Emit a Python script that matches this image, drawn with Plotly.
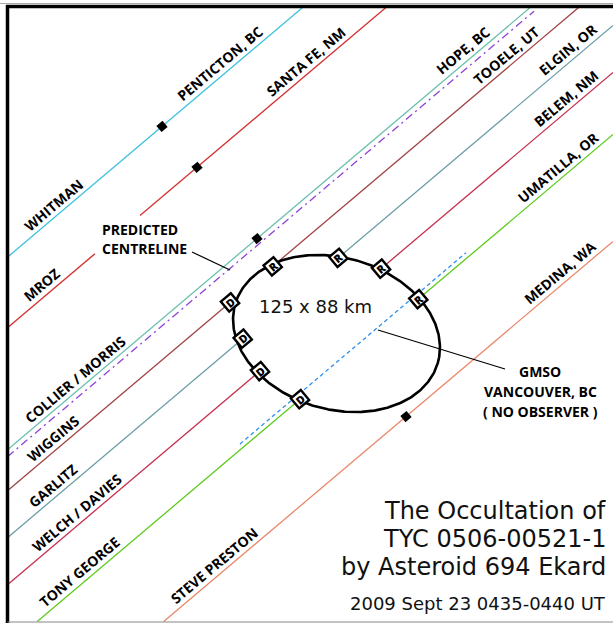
import numpy as np
import plotly.graph_objects as go

W, H = 613, 623
SLOPE = 0.846          # screen slope of the shadow path (pixels, y down)
ANG = -40              # text / marker angle along the path
FRAME_L, FRAME_T, FRAME_B = 7.5, 6.5, 621.5

# ---- chord data (offset c: y = c - SLOPE*x) ----
chord_keys    = ["whitman", "mroz", "collier", "centre", "wiggins", "garlitz", "welch", "george", "preston", "gmso"]
chord_offsets = [263.5, 334.0, 456.0, 463.0, 497.0, 544.0, 591.0, 653.0, 760.0, 647.0]
chord_colors  = ["#3fc1dc", "#d4302f", "#6cc0ae", "#8c42d6", "#a14343", "#6c9ea8", "#c6304f", "#5dcb1e", "#e9876a", "#2f8ff0"]
chord_dash    = ["solid", "solid", "solid", "8px,4px,2px,4px", "solid", "solid", "solid", "solid", "solid", "4px,3px"]
# visible x-ranges of each chord (None = runs to frame edge)
chord_segments = [
    [(None, None)],
    [(None, 95), (140, None)],
    [(None, None)],
    [(None, 534)],
    [(None, 230), (272.7, None)],
    [(None, 242.7), (338.3, None)],
    [(None, 260), (381, None)],
    [(None, 300), (418.3, None)],
    [(None, None)],
    [(240, 466)],
]

# disappearance / reappearance timings (x position along path)
event_keys = ["wiggins", "garlitz", "welch", "george", "wiggins", "garlitz", "welch", "george"]
event_x    = [230, 242.7, 260, 300, 272.7, 338.3, 381, 418.3]
event_type = ["D", "D", "D", "D", "R", "R", "R", "R"]

# station reference points (black diamonds)
station_keys = ["whitman", "mroz", "collier", "preston"]
station_x    = [162, 197, 257, 406]

# observer labels
label_text = ["WHITMAN", "PENTICTON, BC", "MROZ", "SANTA FE, NM", "COLLIER / MORRIS", "HOPE, BC",
              "WIGGINS", "TOOELE, UT", "GARLITZ", "ELGIN, OR", "WELCH / DAVIES", "BELEM, NM",
              "TONY GEORGE", "UMATILLA, OR", "STEVE PRESTON", "MEDINA, WA"]
label_key  = ["whitman", "whitman", "mroz", "mroz", "collier", "collier", "wiggins", "wiggins",
              "garlitz", "garlitz", "welch", "welch", "george", "george", "preston", "preston"]
label_x    = [53, 220, 42, 306, 75, 463, 53, 506, 53, 568, 77, 566, 80, 558, 214, 560]

# fitted asteroid profile (125 x 88 km)
ell_center = (336.5, 333.5)
ell_axes   = (105.5, 75.8)
ell_tilt   = 16.3

title_lines = ["The Occultation of", "TYC 0506-00521-1", "by Asteroid 694 Ekard"]
date_text = "2009 Sept 23 0435-0440 UT"

off = dict(zip(chord_keys, chord_offsets))
def yline(key, x):
    return off[key] - SLOPE * np.asarray(x, dtype=float)

fig = go.Figure()

for key, c, col, dash, segs in zip(chord_keys, chord_offsets, chord_colors, chord_dash, chord_segments):
    for xa, xb in segs:
        if xa is None:
            xa = max(FRAME_L, (c - FRAME_B) / SLOPE)
        if xb is None:
            xb = min((c - FRAME_T) / SLOPE, W)
        xs = np.array([xa, xb])
        fig.add_trace(go.Scatter(x=xs, y=yline(key, xs), mode="lines",
                                 line=dict(color=col, width=1.3, dash=dash),
                                 hoverinfo="skip", showlegend=False))

# ellipse
t = np.linspace(0, 2 * np.pi, 400)
th = np.radians(ell_tilt)
ex = ell_center[0] + ell_axes[0] * np.cos(t) * np.cos(th) - ell_axes[1] * np.sin(t) * np.sin(th)
ey = ell_center[1] + ell_axes[0] * np.cos(t) * np.sin(th) + ell_axes[1] * np.sin(t) * np.cos(th)
fig.add_trace(go.Scatter(x=ex, y=ey, mode="lines", line=dict(color="black", width=2.6),
                         hoverinfo="skip", showlegend=False))

# station diamonds
sx = np.array(station_x, dtype=float)
sy = np.array([yline(k, x) for k, x in zip(station_keys, station_x)])
fig.add_trace(go.Scatter(x=sx, y=sy, mode="markers",
                         marker=dict(symbol="square", size=8, color="black", angle=ANG),
                         hoverinfo="skip", showlegend=False))

# D / R markers
evx = np.array(event_x, dtype=float)
evy = np.array([yline(k, x) for k, x in zip(event_keys, event_x)])
fig.add_trace(go.Scatter(x=evx, y=evy, mode="markers",
                         marker=dict(symbol="square", size=13, color="white", angle=ANG,
                                     line=dict(color="black", width=2.4)),
                         hoverinfo="skip", showlegend=False))

annotations = []
for x, y, s in zip(evx, evy, event_type):
    annotations.append(dict(x=x, y=y, text=s, showarrow=False, textangle=ANG,
                            font=dict(family="Open Sans", size=11, color="black", weight=800),
                            xanchor="center", yanchor="middle"))

for txt, key, x in zip(label_text, label_key, label_x):
    annotations.append(dict(x=x, y=float(yline(key, x)) - 13.5, text=txt, showarrow=False, textangle=ANG,
                            font=dict(family="Open Sans", size=14, color="black", weight=700),
                            xanchor="center", yanchor="middle"))

# predicted centreline label + leader
annotations.append(dict(x=100, y=229, text="PREDICTED", showarrow=False, xanchor="left", yanchor="middle",
                        font=dict(family="Open Sans", size=14, color="black", weight=700)))
annotations.append(dict(x=100, y=248, text="CENTRELINE", showarrow=False, xanchor="left", yanchor="middle",
                        font=dict(family="Open Sans", size=14, color="black", weight=700)))
# GMSO label
for yy, txt in zip([371, 391, 411], ["GMSO", "VANCOUVER, BC", "( NO OBSERVER )"]):
    annotations.append(dict(x=540, y=yy, text=txt, showarrow=False, xanchor="center", yanchor="middle",
                            font=dict(family="Open Sans", size=14, color="black", weight=700)))

annotations.append(dict(x=315, y=306, text="125 x 88 km", showarrow=False, xanchor="center", yanchor="middle",
                        font=dict(family="DejaVu Sans", size=18, color="#111")))

for yy, txt in zip([511, 539, 567], title_lines):
    annotations.append(dict(x=608, y=yy, text=txt, showarrow=False, xanchor="right", yanchor="middle",
                            font=dict(family="DejaVu Sans", size=24, color="#111")))
annotations.append(dict(x=608, y=603, text=date_text, showarrow=False, xanchor="right", yanchor="middle",
                        font=dict(family="DejaVu Sans", size=18, color="#111")))

shapes = [
    dict(type="line", x0=192, y0=252, x1=230, y1=270, line=dict(color="black", width=1.2)),
    dict(type="line", x0=378, y0=330, x1=505, y1=369, line=dict(color="black", width=1.2)),
    dict(type="line", x0=0, y0=3.5, x1=W, y1=3.5, line=dict(color="#aaaaaa", width=1), layer="above"),
    dict(type="line", x0=6, y0=FRAME_T, x1=W, y1=FRAME_T, line=dict(color="black", width=3.5), layer="above"),
    dict(type="line", x0=FRAME_L, y0=5, x1=FRAME_L, y1=H, line=dict(color="black", width=3.5), layer="above"),
    dict(type="line", x0=FRAME_L, y0=FRAME_B + 0.5, x1=W, y1=FRAME_B + 0.5, line=dict(color="#888888", width=1.2), layer="above"),
]

fig.update_layout(
    width=W, height=H, margin=dict(l=0, r=0, t=0, b=0),
    paper_bgcolor="white", plot_bgcolor="white",
    xaxis=dict(range=[0, W], visible=False, fixedrange=True),
    yaxis=dict(range=[H, 0], visible=False, fixedrange=True),
    annotations=annotations, shapes=shapes, showlegend=False,
)

fig.write_html("out.html", config={"displayModeBar": False},
               post_script="document.body.style.margin='0';")
